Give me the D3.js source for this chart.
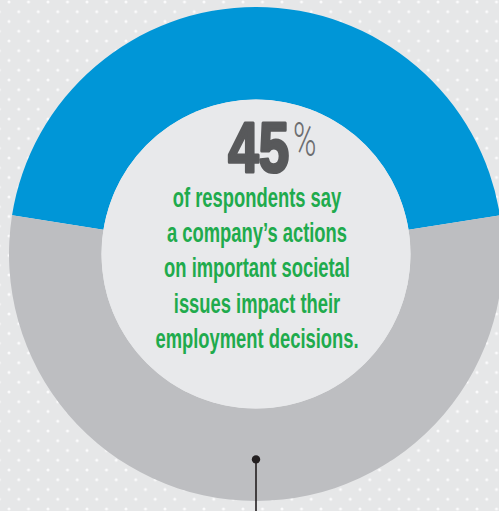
<!DOCTYPE html>
<html>
<head>
<meta charset="utf-8">
<script src="https://cdn.jsdelivr.net/npm/d3@7"></script>
<style>
  html, body { margin: 0; padding: 0; background: #e6e7e8; }
  svg { display: block; }
</style>
</head>
<body>
<svg id="chart" width="499" height="511"></svg>
<script>
// Share of respondents, in percent
const categories = ["Actions on societal issues impact employment decisions", "Other respondents"];
const values = [45, 55];
const headline = values[0];
const messageLines = [
  "of respondents say",
  "a company\u2019s actions",
  "on important societal",
  "issues impact their",
  "employment decisions."
];

const W = 499, H = 511;
const cx = 256, cy = 254;
const outerR = 247, innerR = 154.5;
const colors = d3.scaleOrdinal().domain(categories).range(["#0096d7", "#bdbec1"]);

const svg = d3.select("#chart");

// dotted backdrop: offset lattice of small white dots
const defs = svg.append("defs");
const pat = defs.append("pattern")
  .attr("id", "dots")
  .attr("patternUnits", "userSpaceOnUse")
  .attr("x", 9).attr("y", 1.95)
  .attr("width", 19.5).attr("height", 19.5);
pat.append("rect").attr("width", 19.5).attr("height", 19.5).attr("fill", "#e6e7e8");
[[0, 0], [19.5, 0], [0, 19.5], [19.5, 19.5], [9.75, 9.75]].forEach(([x, y]) => {
  pat.append("circle").attr("cx", x).attr("cy", y).attr("r", 1.5).attr("fill", "#ffffff").attr("opacity", 0.85);
});
svg.append("rect").attr("width", W).attr("height", H).attr("fill", "url(#dots)");

// donut: 45% slice centred on the top
const half = Math.PI * values[0] / 100;
const pie = d3.pie().sort(null).value(d => d.value)
  .startAngle(-half).endAngle(2 * Math.PI - half);
const arc = d3.arc().innerRadius(innerR).outerRadius(outerR);
const data = categories.map((c, i) => ({ category: c, value: values[i] }));

const g = svg.append("g").attr("transform", `translate(${cx},${cy})`);
g.selectAll("path.slice")
  .data(pie(data))
  .join("path")
  .attr("class", "slice")
  .attr("d", arc)
  .attr("fill", d => colors(d.data.category));

// plain centre disc
g.append("circle").attr("r", innerR).attr("fill", "#e8e9eb");

// callout marker hanging from the bottom of the grey slice
const greySlice = pie(data)[1];
const mid = (greySlice.startAngle + greySlice.endAngle) / 2;
const rMark = innerR + (outerR - innerR) * 0.55;
const mx = rMark * Math.sin(mid), my = -rMark * Math.cos(mid);
g.append("line")
  .attr("x1", mx).attr("y1", my)
  .attr("x2", mx).attr("y2", H - cy + 2)
  .attr("stroke", "#231f20").attr("stroke-width", 1.6);
g.append("circle").attr("cx", mx).attr("cy", my).attr("r", 4.2).attr("fill", "#231f20");

// headline figure: heavy condensed digits with a thin percent sign
g.append("text")
  .attr("transform", `translate(${289 - cx},${172 - cy}) scale(0.78,1)`)
  .attr("text-anchor", "end")
  .attr("font-family", "'Liberation Sans', Arial, sans-serif")
  .attr("font-weight", 700)
  .attr("font-size", 70)
  .attr("fill", "#58595b")
  .attr("stroke", "#58595b")
  .attr("stroke-width", 3.2)
  .attr("stroke-linejoin", "round")
  .text(headline);
g.append("text")
  .attr("transform", `translate(${293 - cx},${156 - cy}) scale(0.66,1)`)
  .attr("text-anchor", "start")
  .attr("font-family", "Roboto, 'Liberation Sans', sans-serif")
  .attr("font-weight", 300)
  .attr("font-size", 48)
  .attr("fill", "#6d6e71")
  .text("%");

// message, set in a compressed face
const msg = g.append("g").attr("transform", "translate(1,0) scale(0.645,1)");
msg.selectAll("text")
  .data(messageLines)
  .join("text")
  .attr("x", 0)
  .attr("y", (d, i) => 207 - cy + i * 35.2)
  .attr("text-anchor", "middle")
  .attr("font-family", "'Liberation Sans', Arial, sans-serif")
  .attr("font-weight", 700)
  .attr("font-size", 28.5)
  .attr("fill", "#1fab4d")
  .text(d => d);
</script>
</body>
</html>
